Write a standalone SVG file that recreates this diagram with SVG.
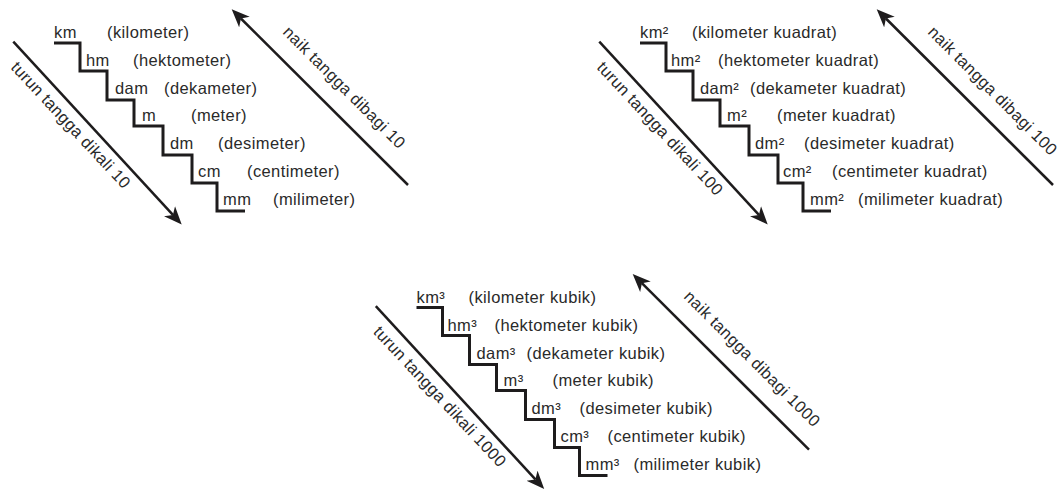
<svg xmlns="http://www.w3.org/2000/svg" width="1063" height="490" viewBox="0 0 1063 490">
<style>
text{font-family:"Liberation Sans",Arial,sans-serif;font-size:16.5px;fill:#2a2a2a;letter-spacing:0.4px}
.stair{fill:none;stroke:#1e1c1d;stroke-width:3;stroke-linejoin:miter}
.arr{fill:none;stroke:#1e1c1d;stroke-width:2.5}
</style>
<defs>
<marker id="ah" markerUnits="userSpaceOnUse" viewBox="0 -8 18 16" markerWidth="18" markerHeight="16" refX="5" refY="0" orient="auto">
<path d="M18,0 L0,-7.5 L5,0 L0,7.5 Z" fill="#1e1c1d"/>
</marker>
</defs>
<rect width="1063" height="490" fill="#fff"/>

<g id="connectors">
<!-- diagram 1 -->
<path class="stair" d="M54,43 H80 V71 H107 V100 H134 V126 H163 V155 H192 V183 H217 V211 H245"/>
<line class="arr" x1="13.3" y1="41.7" x2="172.9" y2="214.9" marker-end="url(#ah)"/>
<line class="arr" x1="408" y1="185" x2="240.9" y2="18.5" marker-end="url(#ah)"/>
<!-- diagram 2 -->
<g transform="translate(586,0)">
<path class="stair" d="M54,43 H80 V71 H107 V100 H134 V126 H163 V155 H192 V183 H217 V211 H245"/>
<line class="arr" x1="13.3" y1="41.7" x2="172.9" y2="214.9" marker-end="url(#ah)"/>
<line class="arr" x1="467" y1="185" x2="299.9" y2="18.5" marker-end="url(#ah)"/>
</g>
<!-- diagram 3 -->
<g transform="translate(362.5,264.5)">
<path class="stair" d="M54,43 H80 V71 H107 V100 H134 V126 H163 V155 H192 V183 H217 V211 H245"/>
<line class="arr" x1="13.3" y1="41.7" x2="172.9" y2="214.9" marker-end="url(#ah)"/>
<line class="arr" x1="446.5" y1="185.2" x2="279.4" y2="18.7" marker-end="url(#ah)"/>
</g>
</g>

<g id="diagram-length">
<g id="len-km"><text x="54" y="38">km</text><text x="107" y="38">(kilometer)</text></g>
<g id="len-hm"><text x="86" y="66">hm</text><text x="133" y="66">(hektometer)</text></g>
<g id="len-dam"><text x="115" y="94">dam</text><text x="164" y="94">(dekameter)</text></g>
<g id="len-m"><text x="142" y="121">m</text><text x="191" y="121">(meter)</text></g>
<g id="len-dm"><text x="170" y="149">dm</text><text x="218" y="149">(desimeter)</text></g>
<g id="len-cm"><text x="198" y="177">cm</text><text x="247" y="177">(centimeter)</text></g>
<g id="len-mm"><text x="223" y="205">mm</text><text x="273" y="205">(milimeter)</text></g>
<g id="len-down"><text transform="translate(10,68) rotate(47)">turun tangga dikali 10</text></g>
<g id="len-up"><text transform="translate(282,33) rotate(45)">naik tangga dibagi 10</text></g>
</g>

<g id="diagram-area" transform="translate(586,0)">
<g id="area-km"><text x="54" y="38">km²</text><text x="106" y="38">(kilometer kuadrat)</text></g>
<g id="area-hm"><text x="85" y="66">hm²</text><text x="132" y="66">(hektometer kuadrat)</text></g>
<g id="area-dam"><text x="114" y="94">dam²</text><text x="164" y="94">(dekameter kuadrat)</text></g>
<g id="area-m"><text x="141" y="121">m²</text><text x="191" y="121">(meter kuadrat)</text></g>
<g id="area-dm"><text x="169" y="149">dm²</text><text x="218" y="149">(desimeter kuadrat)</text></g>
<g id="area-cm"><text x="197" y="177">cm²</text><text x="246" y="177">(centimeter kuadrat)</text></g>
<g id="area-mm"><text x="224" y="205">mm²</text><text x="272" y="205">(milimeter kuadrat)</text></g>
<g id="area-down"><text transform="translate(10,68) rotate(47)">turun tangga dikali 100</text></g>
<g id="area-up"><text transform="translate(341,33) rotate(45)">naik tangga dibagi 100</text></g>
</g>

<g id="diagram-volume" transform="translate(362.5,264.5)">
<g id="vol-km"><text x="54" y="38">km³</text><text x="106" y="38">(kilometer kubik)</text></g>
<g id="vol-hm"><text x="85" y="66">hm³</text><text x="132" y="66">(hektometer kubik)</text></g>
<g id="vol-dam"><text x="114" y="94">dam³</text><text x="164" y="94">(dekameter kubik)</text></g>
<g id="vol-m"><text x="141" y="121">m³</text><text x="190" y="121">(meter kubik)</text></g>
<g id="vol-dm"><text x="169" y="149">dm³</text><text x="217" y="149">(desimeter kubik)</text></g>
<g id="vol-cm"><text x="198" y="177">cm³</text><text x="245" y="177">(centimeter kubik)</text></g>
<g id="vol-mm"><text x="223" y="205">mm³</text><text x="271" y="205">(milimeter kubik)</text></g>
<g id="vol-down"><text transform="translate(10,68) rotate(47)">turun tangga dikali 1000</text></g>
<g id="vol-up"><text transform="translate(320.5,33) rotate(45)">naik tangga dibagi 1000</text></g>
</g>
</svg>
